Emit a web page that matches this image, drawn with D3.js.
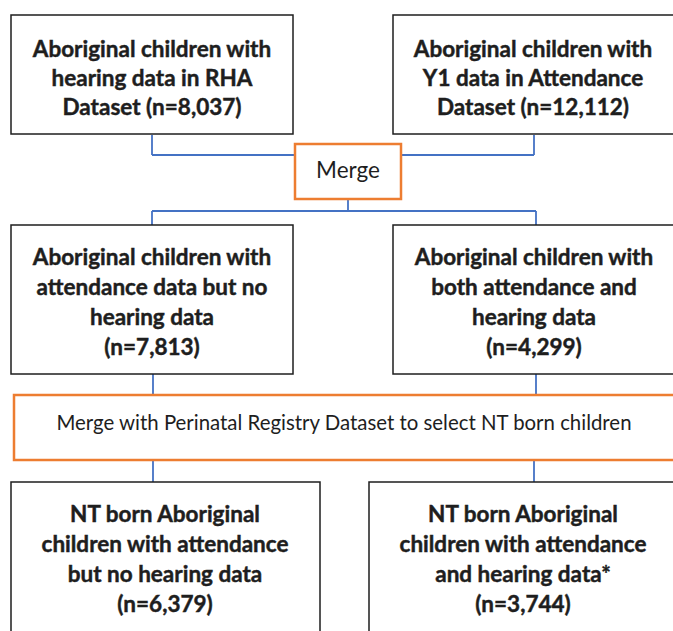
<!DOCTYPE html>
<html>
<head>
<meta charset="utf-8">
<script src="https://cdn.jsdelivr.net/npm/d3@7"></script>
<style>
  body { margin: 0; background: #fff; }
  svg { display: block; }
</style>
</head>
<body>
<div id="chart"></div>
<script>
// box texts (lines) and counts
var topLabels = [
  ["Aboriginal children with", "hearing data in RHA", "Dataset (n=8,037)"],
  ["Aboriginal children with", "Y1 data in Attendance", "Dataset (n=12,112)"]
];
var midLabels = [
  ["Aboriginal children with", "attendance data but no", "hearing data"],
  ["Aboriginal children with", "both attendance and", "hearing data"]
];
var midCounts = ["7,813", "4,299"];
var bottomLabels = [
  ["NT born Aboriginal", "children with attendance", "but no hearing data"],
  ["NT born Aboriginal", "children with attendance", "and hearing data*"]
];
var bottomCounts = ["6,379", "3,744"];
var stepLabels = ["Merge", "Merge with Perinatal Registry Dataset to select NT born children"];

var W = 673, H = 631;
var BLUE = "#4472C4", ORANGE = "#ED7D31", INK = "#1e1e1e";
var FONT = "Lato, 'Open Sans', sans-serif";

var svg = d3.select("#chart").append("svg").attr("width", W).attr("height", H);

/* box geometry per row */
var rows = [
  { boxes: [{x: 11, w: 282}, {x: 393, w: 282}], y: 15, h: 119, lines: topLabels },
  { boxes: [{x: 11, w: 282}, {x: 393, w: 282}], y: 225, h: 149,
    lines: midLabels.map((d, i) => d.concat(["(n=" + midCounts[i] + ")"])) },
  { boxes: [{x: 11, w: 309}, {x: 369, w: 308}], y: 482, h: 160,
    lines: bottomLabels.map((d, i) => d.concat(["(n=" + bottomCounts[i] + ")"])) }
];
var textTops = [57, 265, 522]; // first baseline per row
var textCx = [[152, 533], [152, 534], [165, 523]];

// connectors first (under boxes)
function line(x1, y1, x2, y2, col, sw) {
  svg.append("line").attr("x1", x1).attr("y1", y1).attr("x2", x2).attr("y2", y2)
    .attr("stroke", col).attr("stroke-width", sw);
}
// top boxes -> Merge
line(152, 135, 152, 155, BLUE, 1.8);
line(534, 135, 534, 155, BLUE, 1.8);
line(152, 155, 295, 155, BLUE, 1.8);
line(401, 155, 534, 155, BLUE, 1.8);
// Merge -> mid boxes
line(348, 199, 348, 211, BLUE, 1.8);
line(152, 211, 536, 211, BLUE, 1.8);
line(152, 211, 152, 225, BLUE, 1.8);
line(536, 211, 536, 225, BLUE, 1.8);
// mid boxes -> perinatal merge
line(153, 374, 153, 395, BLUE, 1.8);
line(536, 374, 536, 395, BLUE, 1.8);
// perinatal merge -> bottom boxes
line(153, 460, 153, 482, BLUE, 1.8);
line(534, 460, 534, 482, BLUE, 1.8);

// orange step boxes
var steps = [
  { x: 295, y: 144, w: 106, h: 55, cx: 348, cy: 178, fs: 22.5 },
  { x: 14, y: 395, w: 670, h: 65, cx: 344, cy: 430, fs: 20.4 }
];
steps.forEach(function (s, i) {
  svg.append("rect").attr("x", s.x).attr("y", s.y).attr("width", s.w).attr("height", s.h)
    .attr("fill", "#fff").attr("stroke", ORANGE).attr("stroke-width", 2.5);
  svg.append("text")
    .attr("x", s.cx).attr("y", s.cy)
    .attr("text-anchor", "middle")
    .attr("font-family", FONT).attr("font-size", s.fs)
    .attr("fill", INK)
    .text(stepLabels[i]);
});

// black boxes with bold text
rows.forEach(function (row, r) {
  row.boxes.forEach(function (b, i) {
    svg.append("rect").attr("x", b.x).attr("y", row.y).attr("width", b.w).attr("height", row.h)
      .attr("fill", "#fff").attr("stroke", INK).attr("stroke-width", 1.5);
    var t = svg.append("text")
      .attr("text-anchor", "middle")
      .attr("font-family", FONT).attr("font-weight", "bold").attr("font-size", 22.5)
      .attr("fill", INK)
      .attr("stroke", INK).attr("stroke-width", 0.45); // Calibri bold is heavier than Lato bold
    t.selectAll("tspan").data(row.lines[i]).join("tspan")
      .attr("x", textCx[r][i])
      .attr("y", (d, k) => textTops[r] + k * (r === 0 ? 29 : 30))
      .text(d => d);
  });
});
</script>
</body>
</html>
